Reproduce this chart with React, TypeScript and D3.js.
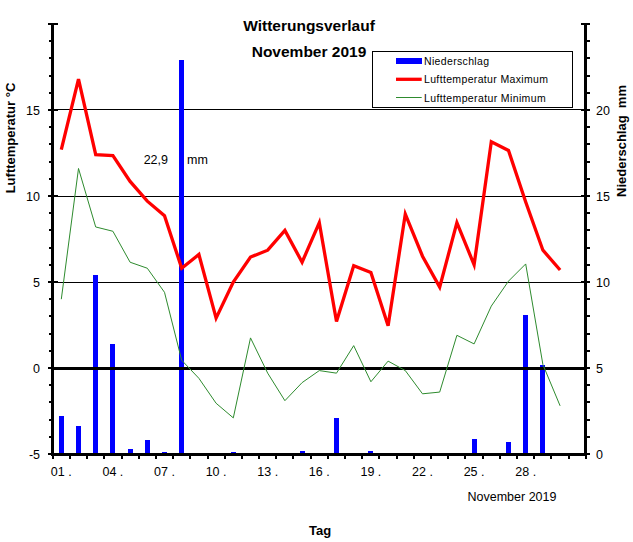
import React from "react";
import * as d3 from "d3";

const days = d3.range(1, 31);
const tempMax = [12.7, 16.8, 12.4, 12.35, 10.85, 9.7, 8.85, 5.8, 6.6, 2.9, 5.0, 6.45, 6.85, 8.0, 6.15, 8.45, 2.7, 5.95, 5.55, 2.45, 8.95, 6.5, 4.7, 8.45, 6.0, 13.15, 12.65, 9.65, 6.85, 5.7];
const tempMin = [4.0, 11.6, 8.2, 7.95, 6.15, 5.8, 4.4, 0.45, -0.6, -2.05, -2.9, 1.75, -0.3, -1.9, -0.85, -0.15, -0.3, 1.3, -0.8, 0.4, -0.15, -1.5, -1.4, 1.9, 1.4, 3.6, 5.05, 6.05, 0.2, -2.2];
const precip = [2.2, 1.6, 10.4, 6.4, 0.3, 0.8, 0.1, 22.9, 0, 0, 0.1, 0, 0, 0, 0.2, 0, 2.1, 0, 0.2, 0, 0, 0, 0, 0, 0.9, 0, 0.7, 8.1, 5.2, 0];
const dayLabels = ["01", "04", "07", "10", "13", "16", "19", "22", "25", "28"];
const leftTicks = [-5, 0, 5, 10, 15];
const rightTicks = [0, 5, 10, 15, 20];
const gridTemps = [5, 10, 15];
const titleLines = ["Witterungsverlauf", "November 2019"];
const legendItems = ["Niederschlag", "Lufttemperatur Maximum", "Lufttemperatur Minimum"];

const W = 633, H = 542;
const FONT = "'Liberation Sans', Arial, sans-serif";
const snap = (v: number) => Math.round(v - 0.5) + 0.5;

export default function App() {
  const x = d3.scaleLinear().domain([0.5, 31.5]).range([52.7, 585.9]);
  const yT = d3.scaleLinear().domain([-5, 20]).range([454, 24]);
  const yP = d3.scaleLinear().domain([0, 25]).range([454, 24]);
  const lineMax = d3.line<number>().x((_, i) => x(days[i])).y(d => yT(d));
  const left = x(0.5), right = x(31.5);
  const top = yT(20), bottom = yT(-5);
  const minorT = d3.range(-5, 21, 1);
  const minorP = d3.range(0, 26, 1);
  const bounds = d3.range(0.5, 32, 1);
  return (
    <svg width={W} height={H} style={{ position: "absolute", left: 0, top: 0, background: "#fff" }} fontFamily={FONT}>
      <rect x={0} y={0} width={W} height={H} fill="#fff" />
      {titleLines.map((t, i) => (
        <text key={t} x={309} y={31 + i * 26} textAnchor="middle" fontSize={15.5} fontWeight="bold">{t}</text>
      ))}
      {gridTemps.map(v => (
        <line key={v} x1={left} x2={right} y1={snap(yT(v))} y2={snap(yT(v))} stroke="#000" strokeWidth={1} shapeRendering="crispEdges" />
      ))}
      {precip.map((p, i) => p > 0 ? (
        <rect key={i} x={Math.round(x(days[i]) - 2.5)} width={5} y={Math.round(yP(p))} height={Math.round(yP(0)) - Math.round(yP(p))} fill="#0000ff" shapeRendering="crispEdges" />
      ) : null)}
      <line x1={left} x2={right} y1={Math.round(yT(0))} y2={Math.round(yT(0))} stroke="#000" strokeWidth={3} shapeRendering="crispEdges" />
      <path d={lineMax(tempMin) || ""} fill="none" stroke="#2e8b2e" strokeWidth={1} />
      <path d={lineMax(tempMax) || ""} fill="none" stroke="#ff0000" strokeWidth={3.3} strokeLinejoin="miter" />
      <text x={168} y={164} textAnchor="end" fontSize={12.5}>22,9</text>
      <text x={187} y={164} fontSize={12.5}>mm</text>
      <g shapeRendering="crispEdges">
        <line x1={left} x2={left} y1={top} y2={bottom + 1.5} stroke="#000" strokeWidth={3} />
        <line x1={right} x2={right} y1={top} y2={bottom + 1.5} stroke="#000" strokeWidth={3} />
        <line x1={left - 1.5} x2={right + 1.5} y1={bottom} y2={bottom} stroke="#000" strokeWidth={3} />
        {minorT.map(v => (
          <line key={"lt" + v} x1={v % 5 === 0 ? left - 5 : left - 4} x2={v % 5 === 0 ? left + 5 : left} y1={Math.round(yT(v))} y2={Math.round(yT(v))} stroke="#000" strokeWidth={2} />
        ))}
        {minorP.map(v => (
          <line key={"rt" + v} x1={v % 5 === 0 ? right - 5 : right} x2={right + 4} y1={Math.round(yP(v))} y2={Math.round(yP(v))} stroke="#000" strokeWidth={2} />
        ))}
        {bounds.map(b => (
          <line key={"bt" + b} x1={Math.round(x(b))} x2={Math.round(x(b))} y1={bottom} y2={bottom + 4.5} stroke="#000" strokeWidth={2} />
        ))}
      </g>
      {leftTicks.map(v => (
        <text key={"ll" + v} x={40} y={yT(v) + 4.5} textAnchor="end" fontSize={12.5}>{v}</text>
      ))}
      {rightTicks.map(v => (
        <text key={"rl" + v} x={596} y={yP(v) + 4.5} fontSize={12.5}>{v}</text>
      ))}
      {dayLabels.map(l => (
        <text key={l} x={x(+l)} y={476} textAnchor="middle" fontSize={12.5}>{l + " ."}</text>
      ))}
      <text x={512} y={501} textAnchor="middle" fontSize={12.5}>November 2019</text>
      <text x={320} y={535} textAnchor="middle" fontSize={13} fontWeight="bold">Tag</text>
      <text transform={`translate(15,138) rotate(-90)`} textAnchor="middle" fontSize={13} fontWeight="bold">Lufttemperatur °C</text>
      <text transform={`translate(626,141) rotate(-90)`} textAnchor="middle" fontSize={13} fontWeight="bold" xmlSpace="preserve">Niederschlag  mm</text>
      <rect x={372.5} y={51.5} width={200} height={56} fill="#fff" stroke="#000" strokeWidth={1} shapeRendering="crispEdges" />
      <rect x={396} y={58} width={26} height={6} fill="#0000ff" />
      <line x1={396} x2={421.7} y1={79.3} y2={79.3} stroke="#ff0000" strokeWidth={3.3} />
      <line x1={396} x2={421.7} y1={97.5} y2={97.5} stroke="#2e8b2e" strokeWidth={1} />
      {legendItems.map((t, i) => (
        <text key={t} x={424} y={65 + i * 18.3} fontSize={10.5} textLength={[65, 124, 121.7][i]} lengthAdjust="spacing">{t}</text>
      ))}
    </svg>
  );
}
